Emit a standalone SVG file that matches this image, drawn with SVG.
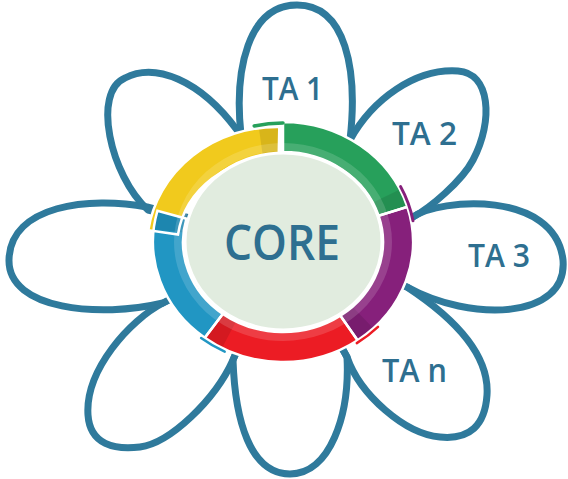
<svg xmlns="http://www.w3.org/2000/svg" xmlns:xlink="http://www.w3.org/1999/xlink" width="568" height="479" viewBox="0 0 568 479">
<style>
.petal{fill:none;stroke:#2f7a9c;stroke-width:7;stroke-linejoin:round}
.lbl{font-family:"Open Sans","Noto Sans",sans-serif;font-weight:600;font-size:32px;fill:#2e6f90;text-anchor:middle}
.core{font-family:"Open Sans","Noto Sans",sans-serif;font-weight:600;font-size:48px;fill:#2e6f90;text-anchor:middle}
.outline{fill:none;stroke:#fff;stroke-width:2.5;stroke-linejoin:miter}
.shade{fill:#000;opacity:0.1}
.accent{fill:none;stroke-linecap:round}
</style>
<defs>
<path id="segY" d="M148.3,230.3 A130,120 0 0 1 279.3,127 L278.7,157 A100,90 0 0 0 178,234.5 Z"/>
<path id="segG" d="M283,122 A130,120 0 0 1 407.3,206.9 L378.6,215.7 A100,90 0 0 0 283,152 Z"/>
<path id="segP" d="M407.3,206.9 A130,120 0 0 1 357.6,340.3 L340.4,315.7 A100,90 0 0 0 378.6,215.7 Z"/>
<path id="segR" d="M357.6,340.3 A130,120 0 0 1 204.8,337.8 L222.8,313.9 A100,90 0 0 0 340.4,315.7 Z"/>
<path id="segB" d="M204.8,337.8 A130,120 0 0 1 157.4,210.9 L186.4,218.7 A100,90 0 0 0 222.8,313.9 Z"/>
</defs>

<g id="petal-ta1">
<path class="petal" d="M283,242 L241,135 C234,70 248,5 297,5 C346,5 358,70 350,140 Z"/>
<text class="lbl" x="292.5" y="100" textLength="61" lengthAdjust="spacingAndGlyphs">TA 1</text>
</g>
<g id="petal-ta2">
<path class="petal" d="M283,242 L350,140 C372,100 415,68 458,71 C490,73 494,120 473,160 C462,181 430,208 413,217 Z"/>
<text class="lbl" x="424.5" y="145" textLength="65" lengthAdjust="spacingAndGlyphs">TA 2</text>
</g>
<g id="petal-ta3">
<path class="petal" d="M283,242 L413,217 C440,198 555,190 563,260 C568,320 470,322 407,287 Z"/>
<text class="lbl" x="499" y="267" textLength="62" lengthAdjust="spacingAndGlyphs">TA 3</text>
</g>
<g id="petal-tan">
<path class="petal" d="M283,242 L407,287 C445,312 490,350 487,395 C485,425 470,440 440,437 C405,434 360,395 347,357 Z"/>
<text class="lbl" x="414.5" y="382" textLength="65" lengthAdjust="spacingAndGlyphs">TA n</text>
</g>
<g id="petal-bottom">
<path class="petal" d="M283,242 L233,360 C235,420 250,474 290,474 C330,474 350,415 347,357 Z"/>
</g>
<g id="petal-lower-left">
<path class="petal" d="M283,242 L163,303 C130,320 85,370 88,415 C90,445 115,450 140,447 C170,443 215,400 233,360 Z"/>
</g>
<g id="petal-left">
<path class="petal" d="M283,242 L147,207 C90,196 10,205 9,260 C8,310 100,318 163,303 Z"/>
</g>
<g id="petal-upper-left">
<path class="petal" d="M283,242 L148,210 C110,175 92,92 125,78 C155,62 200,80 237,130 Z"/>
</g>

<g id="core">
<use xlink:href="#segY" fill="#f1ca1d"/>
<use xlink:href="#segG" fill="#27a05b"/>
<use xlink:href="#segP" fill="#86207b"/>
<use xlink:href="#segR" fill="#ec1c24"/>
<use xlink:href="#segB" fill="#2196c3"/>
<path class="shade" d="M258.9,128.2 A130,120 0 0 1 279.3,127 L278.7,157 A100,90 0 0 0 263.1,157.9 Z"/>
<path class="shade" d="M399.8,189.4 A130,120 0 0 1 407.3,206.9 L378.6,215.7 A100,90 0 0 0 372.9,202.5 Z"/>
<path class="shade" d="M373.3,328.3 A130,120 0 0 1 357.6,340.3 L340.4,315.7 A100,90 0 0 0 352.5,306.7 Z"/>
<path class="shade" d="M222,348 A130,120 0 0 1 204.8,337.8 L222.8,313.9 A100,90 0 0 0 236,321.5 Z"/>
<path class="shade" d="M153.7,229.5 A130,120 0 0 1 157.4,210.9 L186.4,218.7 A100,90 0 0 0 183.5,232.6 Z"/>
<ellipse cx="283" cy="242" rx="105" ry="95" fill="none" stroke="#fff" stroke-width="8" opacity="0.15"/>
<use xlink:href="#segY" class="outline"/>
<use xlink:href="#segG" class="outline"/>
<use xlink:href="#segP" class="outline"/>
<use xlink:href="#segR" class="outline"/>
<use xlink:href="#segB" class="outline"/>
<path class="accent" d="M254.2,126 A128,119 0 0 1 283,123" stroke="#27a05b" stroke-width="3.5"/>
<path class="accent" d="M400.6,186.6 A132,122 0 0 1 413,220.8" stroke="#86207b" stroke-width="3"/>
<path class="accent" d="M378,326.8 A132,122 0 0 1 356.8,343.1" stroke="#ec1c24" stroke-width="2.5"/>
<path class="accent" d="M224.7,351.7 A133,122 0 0 1 201.1,338.1" stroke="#2196c3" stroke-width="2.5"/>
<ellipse cx="283.5" cy="241.5" rx="98.5" ry="88.5" fill="#e1ecdf" stroke="#fff" stroke-width="3"/>
<text class="core" x="282" y="260" textLength="116" lengthAdjust="spacingAndGlyphs">CORE</text>
</g>
</svg>
